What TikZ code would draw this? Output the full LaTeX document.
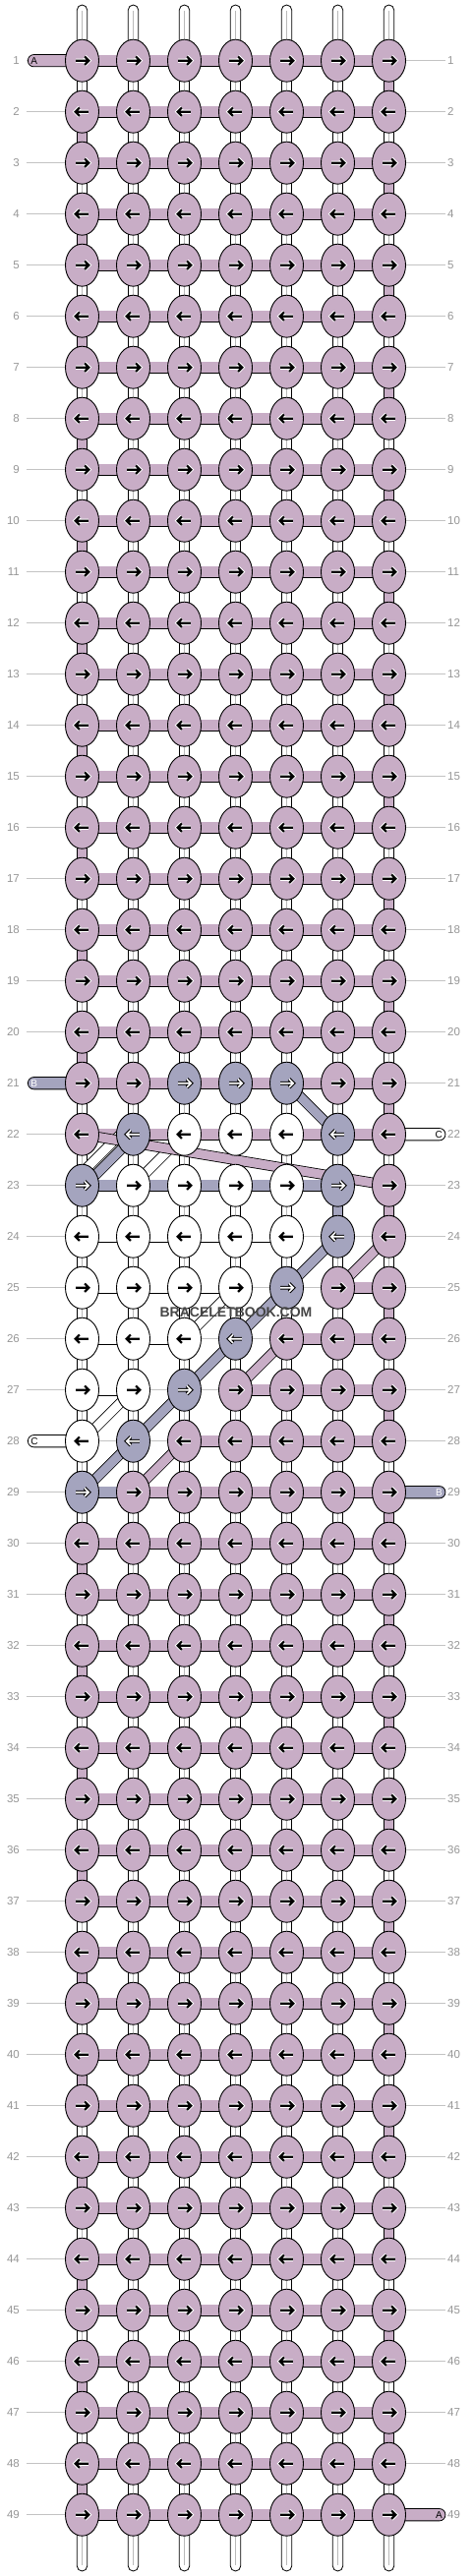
\documentclass[tikz,border=0pt]{standalone}
\usepackage{fontspec}
\setmainfont{Liberation Sans}
\usetikzlibrary{shapes.geometric,backgrounds}

\definecolor{thA}{RGB}{200,173,198}
\definecolor{thB}{RGB}{164,164,190}
\definecolor{thW}{RGB}{255,255,255}
\definecolor{guidegray}{RGB}{195,195,195}
\definecolor{numgray}{RGB}{150,150,150}
\definecolor{seamgray}{RGB}{185,185,185}
\definecolor{wmgray}{RGB}{70,70,70}

\tikzset{
  knot/.style={ellipse, draw=black, line width=0.9pt, minimum width=34pt, minimum height=43pt, inner sep=0pt},
  knotA/.style={knot, fill=thA},
  knotB/.style={knot, fill=thB},
  knotW/.style={knot, fill=thW},
  arrA/.style={draw=black, line width=2.2pt, preaction={draw=white, line width=4.2pt}},
  arrW/.style={arrA},
  arrB/.style={draw=white, line width=1.6pt, preaction={draw=black, line width=3.6pt}},
  hconn/.style={draw=black, line width=0.8pt, double=#1, double distance=10.7pt},
  vconn/.style={draw=black, line width=0.8pt, double=#1, double distance=9.8pt},
  band/.style={draw=black, line width=0.8pt, double=#1, double distance=9pt},
  strand/.style={draw=black, fill=white, line width=0.8pt, rounded corners=5.2pt},
  seam/.style={draw=seamgray, line width=0.7pt},
  guide/.style={draw=guidegray, line width=0.8pt},
  rowno/.style={text=numgray, inner sep=0pt, font=\fontsize{11.5}{12}\selectfont},
  capsule/.style={draw=black, line width=0.8pt, rounded corners=6pt, minimum height=12.3pt,
    text width=49pt, inner xsep=3pt, inner ysep=0pt, font=\fontsize{10}{10}\selectfont},
}

\begin{document}
\begin{tikzpicture}[x=1pt, y=-1pt]
    \useasboundingbox (0,0) rectangle (480,2620);

    % Knots, rows with thread A only
    \foreach \r in {1,...,49}{
        \pgfmathtruncatemacro\isplain{\r<21 || \r>29}
        \pgfmathsetmacro\arrdir{isodd(\r) ? 1 : -1}
        \ifnum\isplain=1
            \foreach \c in {1,...,7}{
                \node[knotA] (k-\r-\c) at ({83.5+52*(\c-1)},{61.7+52*(\r-1)}) {};
                \draw[arrA, shift={(k-\r-\c.center)}, xscale=\arrdir] (-6.3,0) -- (6,0) (2.6,-4.2) -- (6.8,0) -- (2.6,4.2);
            }
        \fi
    }

    % Knots, rows 21-29 (threads B and C)
    \foreach \r/\pat in {21/{A,A,B,B,B,A,A}, 22/{A,B,W,W,W,B,A}, 23/{B,W,W,W,W,B,A},
                         24/{W,W,W,W,W,B,A}, 25/{W,W,W,W,B,A,A}, 26/{W,W,W,B,A,A,A},
                         27/{W,W,B,A,A,A,A}, 28/{W,B,A,A,A,A,A}, 29/{B,A,A,A,A,A,A}}{
        \pgfmathsetmacro\arrdir{isodd(\r) ? 1 : -1}
        \foreach \kc [count=\c] in \pat {
            \node[knot\kc] (k-\r-\c) at ({83.5+52*(\c-1)},{61.7+52*(\r-1)}) {};
            \draw[arr\kc, shift={(k-\r-\c.center)}, xscale=\arrdir] (-6.3,0) -- (6,0) (2.6,-4.2) -- (6.8,0) -- (2.6,4.2);
        }
    }

    % Watermark
    \node[font=\bfseries\fontsize{14}{14}\selectfont, text=wmgray] (watermark) at (240,1335) {BRACELETBOOK.COM};

    \begin{scope}[on background layer]
        % Row numbers and guide lines
        \foreach \r in {1,...,49}{
            \node[rowno, anchor=east] (ln-\r) at (20,{61.7+52*(\r-1)}) {\r};
            \node[rowno, anchor=west] (rn-\r) at (455,{61.7+52*(\r-1)}) {\r};
            \draw[guide] ([xshift=6.7pt]ln-\r.east) -- ([xshift=-1.7pt]rn-\r.west);
        }

        % Thread ends
        \node[capsule, fill=thA, anchor=west, align=left] (endA-1) at (28,61.7) {A};
        \node[capsule, fill=thB, text=white, anchor=west, align=left] (endB-21) at (28,1101.7) {B};
        \node[capsule, fill=white, anchor=west, align=left] (endC-28) at (28,1465.7) {C};
        \node[capsule, fill=white, anchor=east, align=right] (endC-22) at (453.3,1153.7) {C};
        \node[capsule, fill=thB, text=white, anchor=east, align=right] (endB-29) at (453.3,1517.7) {B};
        \node[capsule, fill=thA, anchor=east, align=right] (endA-49) at (453.3,2557.7) {A};

        % Loose strands at top and bottom
        \foreach \c in {1,...,7}{
            \coordinate (top-\c) at ({83.5+52*(\c-1)},5);
            \coordinate (bot-\c) at ({83.5+52*(\c-1)},2615);
            \draw[strand] ([xshift=-5.2pt]top-\c) rectangle ([xshift=5.2pt]k-1-\c.center);
            \draw[seam, shorten <=6pt] (top-\c) -- (k-1-\c.center);
            \draw[strand] ([xshift=-5.2pt]k-49-\c.center) rectangle ([xshift=5.2pt]bot-\c);
            \draw[seam, shorten >=6pt] (k-49-\c.center) -- (bot-\c);
        }

        % Links between rows
        \foreach \r in {1,...,48}{
            \pgfmathtruncatemacro\s{\r+1}
            \foreach \c in {1,...,7}{
                \pgfmathtruncatemacro\isturn{(\c==7 && isodd(\r)) || (\c==1 && iseven(\r) && (\r<21 || \r>29))}
                \pgfmathtruncatemacro\bluelink{(\r==23) && (\c==6)}
                \ifnum\isturn=1
                    \draw[vconn=thA] (k-\r-\c.center) -- (k-\s-\c.center);
                \else\ifnum\bluelink=1
                    \draw[vconn=thB] (k-\r-\c.center) -- (k-\s-\c.center);
                \else
                    \draw[vconn=white] (k-\r-\c.center) -- (k-\s-\c.center);
                    \draw[seam] (k-\r-\c.center) -- (k-\s-\c.center);
                \fi\fi
            }
        }

        % Links along the rows
        \foreach \r in {1,...,49}{
            \pgfmathtruncatemacro\isplain{\r<21 || \r>29}
            \ifnum\isplain=1
                \foreach \c in {1,...,6}{
                    \pgfmathtruncatemacro\d{\c+1}
                    \draw[hconn=thA] (k-\r-\c.center) -- (k-\r-\d.center);
                }
            \fi
        }
        \foreach \r/\pat in {21/{A,A,A,A,A,A}, 22/{A,A,A,A,A,A}, 23/{B,B,B,B,B,N},
                             24/{W,W,W,W,N,N}, 25/{W,W,W,N,N,A}, 26/{W,W,N,N,A,A},
                             27/{W,N,N,A,A,A}, 28/{N,N,A,A,A,A}, 29/{B,A,A,A,A,A}}{
            \foreach \kc [count=\c] in \pat {
                \pgfmathtruncatemacro\d{\c+1}
                \if N\kc\else
                    \draw[hconn=th\kc] (k-\r-\c.center) -- (k-\r-\d.center);
                \fi
            }
        }

        % Diagonal links, thread C
        \draw[band=white] ([shift={(-6.5,-6.5)}]k-23-1.center) -- ([shift={(-6.5,-6.5)}]k-22-2.center);
        \draw[band=white] (k-23-2.center) -- (k-22-3.center);
        \draw[band=white] (k-26-3.center) -- (k-25-4.center);
        \draw[band=white] (k-28-1.center) -- (k-27-2.center);

        % Diagonal links, thread B
        \draw[band=thB] (k-21-5.center) -- (k-22-6.center);
        \draw[band=thB] ([shift={(1.5,1.5)}]k-22-2.center) -- ([shift={(1.5,1.5)}]k-23-1.center);
        \draw[band=thB] (k-24-6.center) -- (k-25-5.center) -- (k-26-4.center) -- (k-27-3.center) -- (k-28-2.center) -- (k-29-1.center);

        % Diagonal links, thread A
        \draw[band=thA] (k-22-1.center) -- (k-23-7.center);
        \draw[band=thA] (k-24-7.center) -- (k-25-6.center);
        \draw[band=thA] (k-26-5.center) -- (k-27-4.center);
        \draw[band=thA] (k-28-3.center) -- (k-29-2.center);
    \end{scope}
\end{tikzpicture}
\end{document}
